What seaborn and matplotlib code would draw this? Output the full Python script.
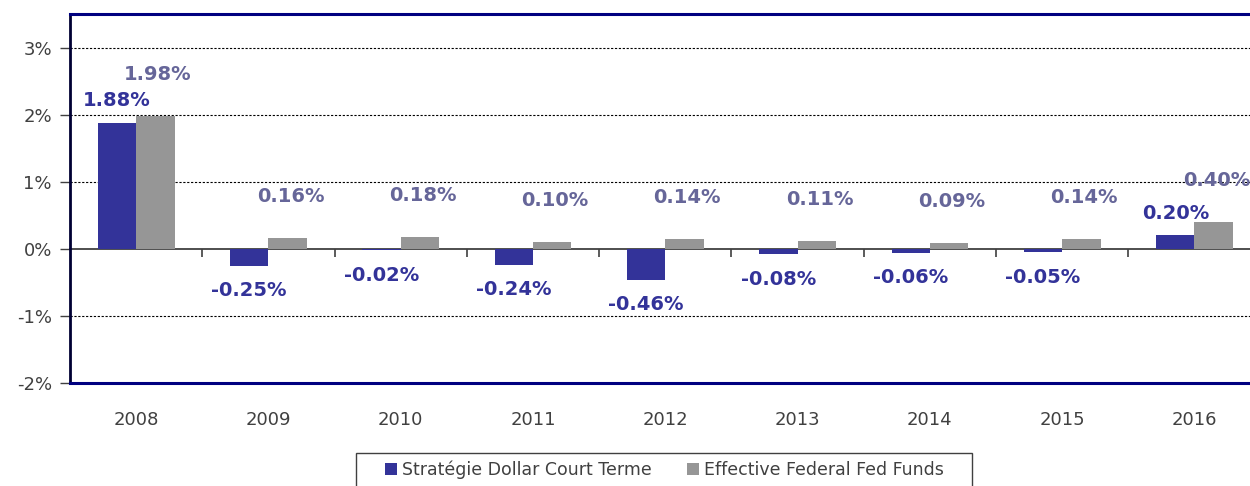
import matplotlib
matplotlib.use("Agg")
import matplotlib.pyplot as plt
import matplotlib.ticker as mticker
from matplotlib.patches import Rectangle
import pandas as pd
import seaborn as sns

years = ["2008", "2009", "2010", "2011", "2012", "2013", "2014", "2015", "2016"]
strategy = [1.88, -0.25, -0.02, -0.24, -0.46, -0.08, -0.06, -0.05, 0.20]
fed_funds = [1.98, 0.16, 0.18, 0.10, 0.14, 0.11, 0.09, 0.14, 0.40]
series_names = ["Stratégie Dollar Court Terme", "Effective Federal Fed Funds"]
y_ticks = [-2, -1, 0, 1, 2, 3]

blue = "#333399"
grey = "#969696"
label_grey = "#666699"
navy = "#000080"
text_col = "#404040"

df = pd.concat([
    pd.DataFrame({"year": years, "value": strategy, "series": series_names[0]}),
    pd.DataFrame({"year": years, "value": fed_funds, "series": series_names[1]}),
])

sns.set_theme(style="white")
plt.rcParams["font.family"] = ["DejaVu Sans"]

fig = plt.figure(figsize=(12.5, 4.86), dpi=100)
ax = fig.add_axes([0.056, 0.212, 0.944, 0.759])

sns.barplot(data=df, x="year", y="value", hue="series",
            palette=[blue, grey], width=0.58, saturation=1,
            edgecolor="none", ax=ax)

ax.set_ylim(-2, 3.5)
ax.set_xlim(-0.5, 8.42)
ax.set_yticks(y_ticks)
ax.yaxis.set_major_formatter(mticker.FuncFormatter(lambda v, p: f"{v:.0f}%"))
ax.set_xlabel("")
ax.set_ylabel("")

for y in y_ticks:
    if y not in (0, -2):
        ax.axhline(y, color="black", lw=0.8, ls=(0, (2, 1.5)), zorder=0)

ax.tick_params(axis="y", left=True, length=7, width=1, color=text_col,
               labelsize=13, labelcolor=text_col, pad=6)
ax.tick_params(axis="x", bottom=False, labelsize=13, labelcolor=text_col, pad=14)

for side in ["top", "bottom"]:
    ax.spines[side].set_color(navy)
    ax.spines[side].set_linewidth(2.2)
ax.spines["left"].set_color("#000033")
ax.spines["left"].set_linewidth(2)
ax.spines["right"].set_visible(False)

# zero line with category separator ticks
zero_ax = ax.secondary_xaxis(2 / 5.5)
zero_ax.set_xticks([i + 0.5 for i in range(len(years) - 1)])
zero_ax.xaxis.set_major_formatter(mticker.NullFormatter())
zero_ax.tick_params(axis="x", direction="out", length=6, width=1.2,
                    color=text_col)
zero_ax.spines["bottom"].set_color(text_col)
zero_ax.spines["bottom"].set_linewidth(1.3)

# value labels
blue_bars, grey_bars = ax.containers[0], ax.containers[1]
for bar, val in zip(blue_bars, strategy):
    off = 16 if val >= 0 else -18
    ax.annotate(f"{val:.2f}%", (bar.get_x() + bar.get_width() / 2, val),
                xytext=(0, off), textcoords="offset points",
                ha="center", va="center", fontsize=14, fontweight="bold",
                color=blue)
for bar, val in zip(grey_bars, fed_funds):
    ax.annotate(f"{val:.2f}%", (bar.get_x() + bar.get_width() / 2, val),
                xytext=(2, 30), textcoords="offset points",
                ha="center", va="center", fontsize=14, fontweight="bold",
                color=label_grey)

handles, labels = ax.get_legend_handles_labels()
ax.get_legend().remove()
leg = fig.legend(handles, labels, loc="center",
                 bbox_to_anchor=(0.5316, 0.033), ncol=2, fontsize=12.5,
                 frameon=False, handlelength=0.7,
                 handleheight=0.7, handletextpad=0.3, columnspacing=2.0,
                 borderpad=0, borderaxespad=0)
for t in leg.get_texts():
    t.set_color(text_col)

# legend box (runs past the bottom edge like the original)
fig.patches.append(Rectangle((356 / 1250, -0.05), (972 - 356) / 1250, 0.118,
                             transform=fig.transFigure, fill=False,
                             edgecolor=text_col, lw=1))

fig.savefig("out.png", dpi=100)
